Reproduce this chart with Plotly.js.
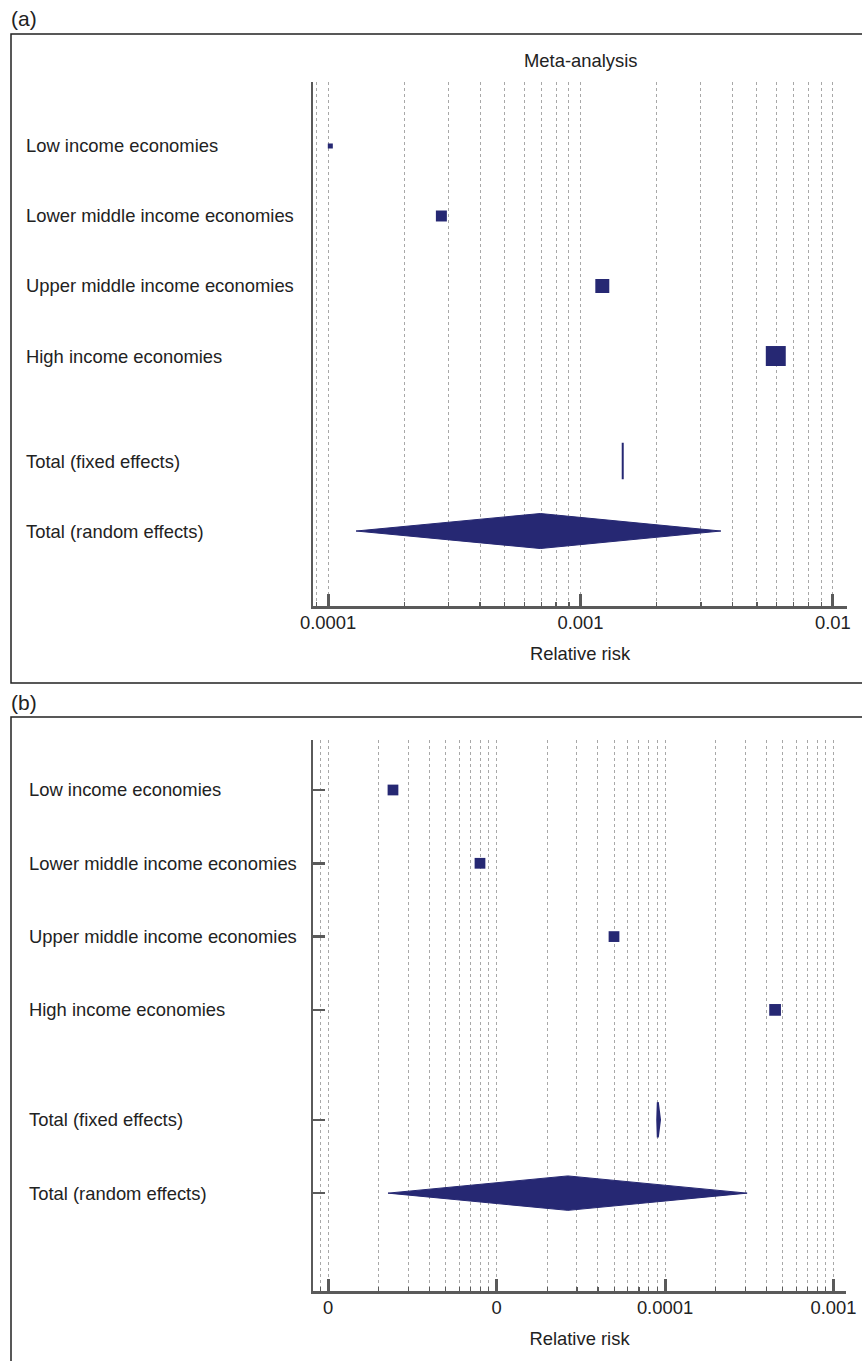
<!DOCTYPE html>
<html>
<head>
<meta charset="utf-8">
<script src="https://cdn.plot.ly/plotly-3.0.1.min.js"></script>
<style>html,body{margin:0;padding:0;background:#fff;}#chart{width:862px;height:1361px;}</style>
</head>
<body>
<div id="chart"></div>
<script>
// ---- data ----
const categories = ['Low income economies', 'Lower middle income economies', 'Upper middle income economies', 'High income economies'];
const totalLabels = ['Total (fixed effects)', 'Total (random effects)'];

// panel (a): relative risk, weight (%), pooled [lower, estimate, upper]
const rrA = [1.02e-4, 2.81e-4, 1.22e-3, 5.94e-3];
const weightA = [3.4, 16.3, 26.4, 53.9];
const fixedA = [1.47e-3, 1.47e-3, 1.47e-3];
const randomA = [1.29e-4, 6.93e-4, 3.60e-3];
const tickValsA = [1e-4, 1e-3, 1e-2];
const tickTextA = ['0.0001', '0.001', '0.01'];

// panel (b)
const rrB = [2.43e-6, 7.98e-6, 4.98e-5, 4.50e-4];
const weightB = [23.9, 23.9, 23.9, 28.4];
const fixedB = [8.99e-5, 9.06e-5, 9.34e-5];
const randomB = [2.27e-6, 2.65e-5, 3.07e-4];
const tickValsB = [1e-6, 1e-5, 1e-4, 1e-3];
const tickTextB = ['0', '0', '0.0001', '0.001'];

const titleA = 'Meta-analysis';
const xTitle = 'Relative risk';

// ---- styling / layout helpers ----
const W = 862, H = 1361;
const navy = '#262873';
const axisCol = '#5a5a5a';
const txtCol = '#222222';
const FONT = 'Liberation Sans, Arial, Helvetica, sans-serif';
const LBL = 18.4;
const rowPos = i => (i < 4 ? i : i + 0.5);
const px = v => v / W;
const py = v => 1 - v / H;

function squares(rr, w, k, xa, ya) {
  return {
    type: 'scatter', mode: 'markers', xaxis: xa, yaxis: ya,
    x: rr, y: rr.map((_, i) => rowPos(i)),
    marker: { symbol: 'square', color: navy, opacity: 1, size: w.map(v => k * Math.sqrt(v)), line: { width: 0 } },
    hoverinfo: 'x', showlegend: false
  };
}
function diamond(ci, row, half, xa, ya, lw) {
  const r = rowPos(row);
  return {
    type: 'scatter', mode: 'lines', xaxis: xa, yaxis: ya,
    x: [ci[0], ci[1], ci[2], ci[1], ci[0]],
    y: [r, r - half, r, r + half, r],
    fill: 'toself', fillcolor: navy, line: { color: navy, width: lw },
    hoverinfo: 'skip', showlegend: false
  };
}

const traces = [
  squares(rrA, weightA, 2.72, 'x', 'y'),
  diamond(fixedA, 4, 0.26, 'x', 'y', 2),
  diamond(randomA, 5, 0.25, 'x', 'y', 1),
  squares(rrB, weightB, 2.2, 'x2', 'y2'),
  diamond(fixedB, 4, 0.24, 'x2', 'y2', 2),
  diamond(randomB, 5, 0.235, 'x2', 'y2', 1)
];

const allLabels = categories.concat(totalLabels);

function xAxis(range, domain, tv, tt, anchor) {
  return {
    type: 'log', range: range, domain: domain, anchor: anchor,
    tickmode: 'array', tickvals: tv, ticktext: tt,
    ticks: 'inside', ticklen: 12, tickwidth: 3, tickcolor: axisCol,
    showline: true, linecolor: axisCol, linewidth: 2.5,
    showgrid: true, gridcolor: '#a8a8a8', gridwidth: 1, griddash: 'dot',
    minor: { dtick: 'D1', ticks: 'inside', ticklen: 4, tickwidth: 1.2, tickcolor: axisCol,
             showgrid: true, gridcolor: '#a8a8a8', gridwidth: 1, griddash: 'dot' },
    tickfont: { family: FONT, size: LBL, color: txtCol },
    ticklabelstandoff: -2,
    title: { text: xTitle, font: { family: FONT, size: LBL, color: txtCol }, standoff: 16 },
    zeroline: false, fixedrange: true, automargin: false
  };
}
function yAxis(range, domain, anchor, withTicks) {
  return {
    range: range, domain: domain, anchor: anchor,
    showline: true, linecolor: axisCol, linewidth: 2.5,
    showgrid: false, zeroline: false, showticklabels: false,
    tickmode: 'array', tickvals: allLabels.map((_, i) => rowPos(i)),
    ticks: withTicks ? 'inside' : '', ticklen: 12, tickwidth: 2.5, tickcolor: axisCol,
    fixedrange: true, automargin: false
  };
}

const annotations = [];
allLabels.forEach((t, i) => {
  annotations.push({ text: t, xref: 'paper', x: px(24), xanchor: 'left', yref: 'y', y: rowPos(i), yanchor: 'middle',
    showarrow: false, font: { family: FONT, size: LBL, color: txtCol } });
  annotations.push({ text: t, xref: 'paper', x: px(27), xanchor: 'left', yref: 'y2', y: rowPos(i), yanchor: 'middle',
    showarrow: false, font: { family: FONT, size: LBL, color: txtCol } });
});
annotations.push({ text: titleA, xref: 'x domain', yref: 'paper', x: 0.5, y: py(61), xanchor: 'center', yanchor: 'middle',
  showarrow: false, font: { family: FONT, size: LBL, color: txtCol } });
annotations.push({ text: '(a)', xref: 'paper', yref: 'paper', x: px(9), y: py(18), xanchor: 'left', yanchor: 'middle',
  showarrow: false, font: { family: FONT, size: 21, color: txtCol } });
annotations.push({ text: '(b)', xref: 'paper', yref: 'paper', x: px(9), y: py(702), xanchor: 'left', yanchor: 'middle',
  showarrow: false, font: { family: FONT, size: 21, color: txtCol } });

const shapes = [
  { type: 'rect', xref: 'paper', yref: 'paper', x0: px(11), x1: 1.05, y0: py(683), y1: py(34), line: { color: '#222', width: 1.5 } },
  { type: 'rect', xref: 'paper', yref: 'paper', x0: px(11), x1: 1.05, y0: -0.05, y1: py(717), line: { color: '#222', width: 1.5 } }
];

const layout = {
  width: W, height: H, margin: { l: 0, r: 0, t: 0, b: 0 },
  paper_bgcolor: '#fff', plot_bgcolor: 'rgba(0,0,0,0)',
  font: { family: FONT, color: txtCol },
  showlegend: false,
  xaxis: xAxis([-4.06, -1.944], [px(313), px(847)], tickValsA, tickTextA, 'y'),
  yaxis: yAxis([6.571, -0.914], [py(606), py(82)], 'x', false),
  xaxis2: xAxis([-6.089, -2.926], [px(313), px(846)], tickValsB, tickTextB, 'y2'),
  yaxis2: yAxis([6.835, -0.682], [py(1291), py(740)], 'x2', true),
  annotations: annotations, shapes: shapes
};

Plotly.newPlot('chart', traces, layout, { displayModeBar: false, staticPlot: true });
</script>
</body>
</html>
